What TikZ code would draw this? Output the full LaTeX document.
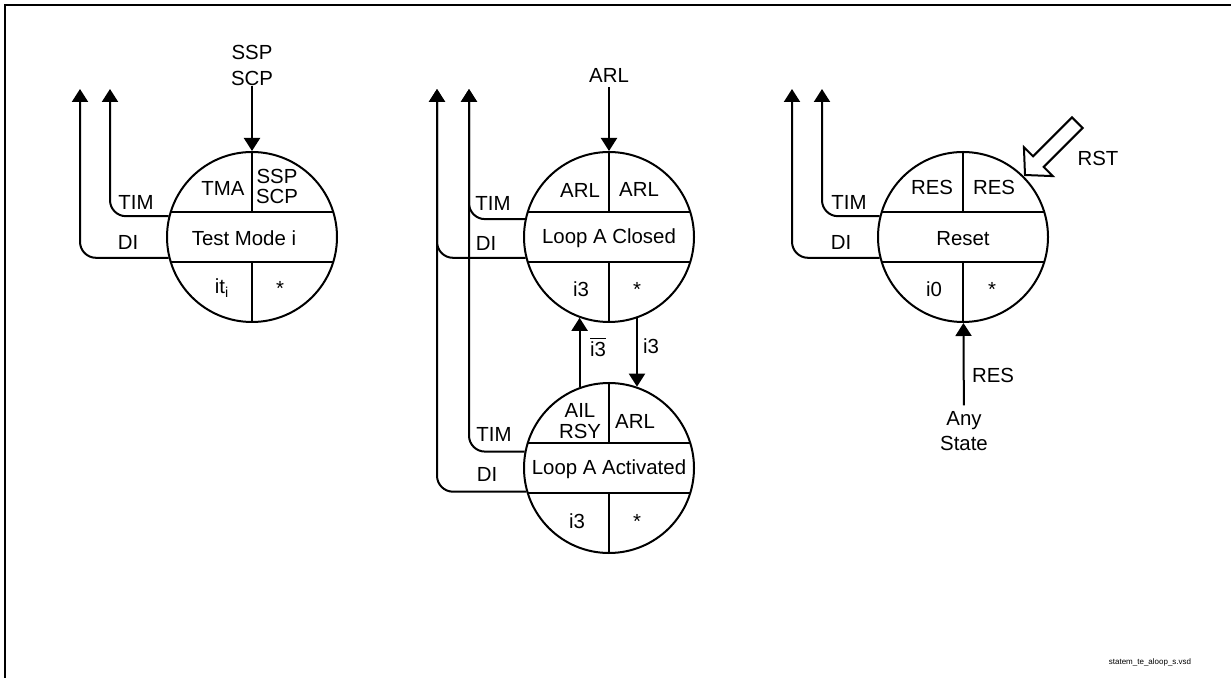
\documentclass[tikz,border=0pt]{standalone}
\usepackage{fontspec}
\setmainfont{Liberation Sans}
\usetikzlibrary{arrows.meta}
\begin{document}
\begin{tikzpicture}[x=0.5pt,y=-0.5pt,
  every node/.style={font=\fontsize{10.2}{10}\selectfont, inner sep=0pt, outer sep=0pt},
  st/.style={circle, draw, line width=1pt, minimum size=85pt, inner sep=0pt, outer sep=0.5pt},
  ln/.style={line width=1pt},
  arr/.style={line width=1pt, -{Triangle[length=6.5pt,width=8pt]}},
  exitln/.style={arr, rounded corners=8pt},
  two/.style={align=center, font=\fontsize{10.2}{10}\selectfont},
  hollow/.style={line width=1pt, fill=white, line join=miter}]

\useasboundingbox (0,0) rectangle (1231,678);
\draw[ln] (5,678) -- (5,5) -- (1231,5);

% states
\node[st] (c1) at (252,237) {};
\node[st] (c2) at (609,237) {};
\node[st] (c3) at (609,468) {};
\node[st] (c4) at (963,237) {};

\foreach \c in {c1,c2,c3,c4}{
  \draw[ln] (\c.163) -- (\c.17);
  \draw[ln] (\c.197) -- (\c.343);
  \draw[ln] (\c.north) -- (\c.north |- \c.17);
  \draw[ln] (\c.south) -- (\c.south |- \c.343);
}

% texts in state 1
\node (c1tl) at (223,188) {TMA};
\node[two] (c1tr) at (277,186) {SSP\\SCP};
\node (c1m) at (244,238) {Test Mode i};
\node (c1bl) at (222,288) {it\textsubscript{i}};
\node (c1br) at (280,288) {*};

% texts in state 2
\node (c2tl) at (580,190) {ARL};
\node (c2tr) at (639,189) {ARL};
\node (c2m) at (609,238) {Loop A Closed};
\node (c2bl) at (581,289) {i3};
\node (c2br) at (637,289) {*};

% texts in state 3
\node[two, font=\fontsize{10.2}{10.5}\selectfont] (c3tl) at (580,421) {AIL\\RSY};
\node (c3tr) at (635,421) {ARL};
\node (c3m) at (609,469) {Loop A Activated};
\node (c3bl) at (577,521) {i3};
\node (c3br) at (637,521) {*};

% texts in state 4
\node (c4tl) at (932,187) {RES};
\node (c4tr) at (994,187) {RES};
\node (c4m) at (963,239) {Reset};
\node (c4bl) at (934,289) {i0};
\node (c4br) at (992,289) {*};

% exits, state 1
\coordinate (u1a) at (80,89);
\coordinate (u1b) at (110,89);
\draw[exitln] (c1.166) -| (u1b);
\draw[exitln] (c1.194) -| (u1a);
\node (l1a) at (136,202) {TIM};
\node (l1b) at (128,242) {DI};

% exits, states 2 and 3
\coordinate (u2a) at (437,89);
\coordinate (u2b) at (469,89);
\draw[exitln] (c2.168) -| (u2b);
\draw[exitln] (c2.194) -| (u2a);
\draw[exitln] (c3.169) -| (u2b);
\draw[exitln] (c3.196) -| (u2a);
\node (l2a) at (493,203) {TIM};
\node (l2b) at (486,243) {DI};
\node (l3a) at (494,434) {TIM};
\node (l3b) at (487,474) {DI};

% exits, state 4
\coordinate (u4a) at (792,89);
\coordinate (u4b) at (822,89);
\draw[exitln] (c4.166) -| (u4b);
\draw[exitln] (c4.194) -| (u4a);
\node (l4a) at (849,202) {TIM};
\node (l4b) at (841,242) {DI};

% entries from top
\node[two, font=\fontsize{10.2}{13}\selectfont, inner ysep=0.5pt] (s1) at (252,65) {SSP\\SCP};
\draw[arr] (s1) -- (c1);
\node[inner ysep=2.5pt] (s2) at (609,75) {ARL};
\draw[arr] (s2) -- (c2);

% transitions between states 2 and 3
\draw[arr] (c3.110) -- (c2.250);
\draw[arr] (c2.289) -- (c3.71);
\node (lb1) at (598,347) {$\overline{\mbox{i3}}$};
\node (lb2) at (651,346) {i3};

% reset from any state
\node[two, font=\fontsize{10.2}{12.5}\selectfont, inner ysep=3pt] (any) at (964,431) {Any\\State};
\draw[arr] (any) -- (c4);
\node (lres) at (993,375) {RES};

% RST hollow arrow
\draw[hollow] (1025,175) -- (1023.9,147.1) -- (1033.1,156.3) -- (1072.0,117.4)
  -- (1082.6,128.0) -- (1043.7,166.9) -- (1052.9,176.1) -- cycle;
\node (rst) at (1098,158) {RST};

\node[font=\fontsize{4}{5}\selectfont] (fn) at (1150,662) {statem\_te\_aloop\_s.vsd};
\end{tikzpicture}
\end{document}
